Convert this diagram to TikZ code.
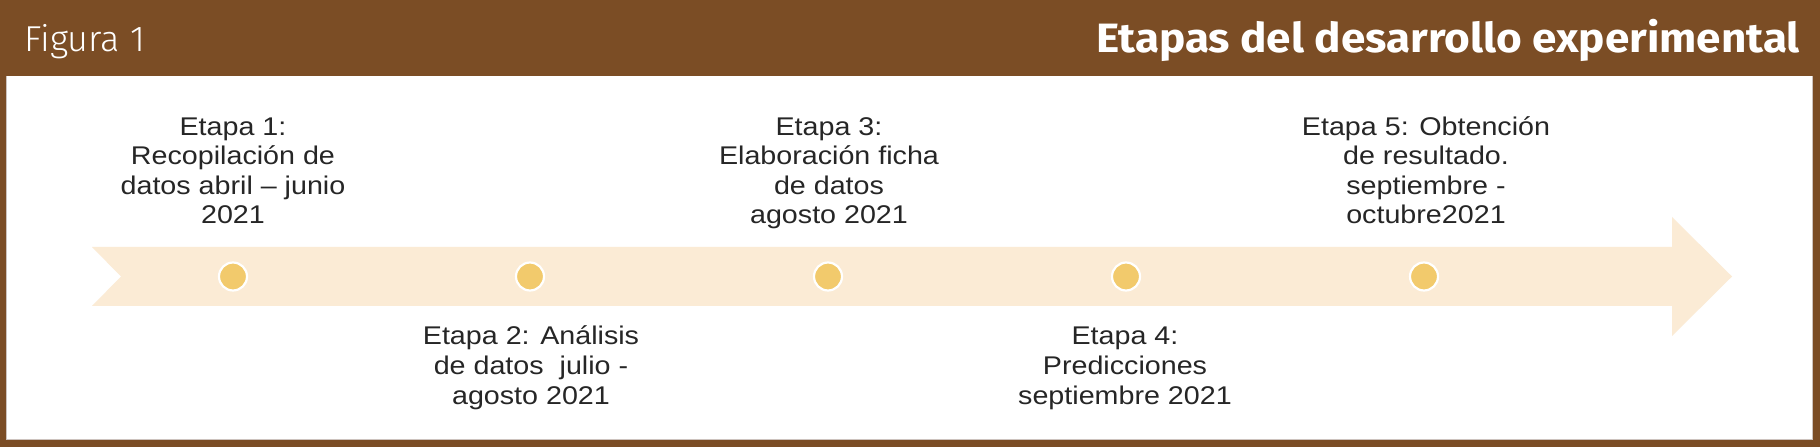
\documentclass[tikz,border=0pt]{standalone}
\usepackage{fontspec}
\setmainfont{Liberation Sans}[FakeStretch=1.12]
\newfontfamily\hdlight{Fira Sans Light}
\newfontfamily\hdbold{Fira Sans Bold}[FakeStretch=1.075]
\definecolor{brownhd}{RGB}{123,77,37}
\definecolor{beige}{RGB}{251,235,213}
\definecolor{dotc}{RGB}{242,202,108}
\definecolor{txt}{RGB}{38,38,38}
\definecolor{rimc}{RGB}{205,195,190}
\tikzset{
  stagetxt/.style={align=center, inner sep=0pt, anchor=base, text=txt,
    font=\fontsize{25.6bp}{29.5bp}\selectfont},
  dotnode/.style={circle, fill=dotc, draw=white, line width=2.2bp, minimum size=28bp, inner sep=0pt},
}
\begin{document}
\begin{tikzpicture}[x=1bp,y=-1bp]
\useasboundingbox (0,0) rectangle (1820,447);
\fill[brownhd] (0,0) rectangle (1820,447);
\fill[white] (6,76) rectangle (1813,440);
\draw[rimc, line width=0.8bp] (6.4,76) -- (6.4,439.6) -- (1812.6,439.6) -- (1812.6,76);
\node[anchor=base west, inner sep=0pt, text=white, font=\hdlight\fontsize{36bp}{40bp}\selectfont] (fig) at (24,52) {Figura 1};
\node[anchor=base east, inner sep=0pt, text=white, font=\hdbold\fontsize{41bp}{44bp}\selectfont] (title) at (1800,53) {Etapas del desarrollo experimental};
\fill[beige] (92,247) -- (1672,247) -- (1672,217) -- (1732,276.5) -- (1672,336) -- (1672,306) -- (92,306) -- (121,276.5) -- cycle;
\node[dotnode] (c1) at (233,276.5) {};
\node[dotnode] (c2) at (530,276.5) {};
\node[dotnode] (c3) at (828,276.5) {};
\node[dotnode] (c4) at (1126,276.5) {};
\node[dotnode] (c5) at (1424,276.5) {};
\node[stagetxt] (t1) at (233,224) {Etapa 1:\\Recopilación de\\datos abril – junio\\2021};
\node[stagetxt] (t2) at (531,404) {Etapa 2: Análisis\\de datos\ \ julio -\\agosto 2021};
\node[stagetxt] (t3) at (829,224) {Etapa 3:\\Elaboración ficha\\de datos\\agosto 2021};
\node[stagetxt] (t4) at (1125,404) {Etapa 4:\\Predicciones\\septiembre 2021};
\node[stagetxt] (t5) at (1426,224) {Etapa 5: Obtención\\de resultado.\\septiembre -\\octubre2021};
\end{tikzpicture}
\end{document}
